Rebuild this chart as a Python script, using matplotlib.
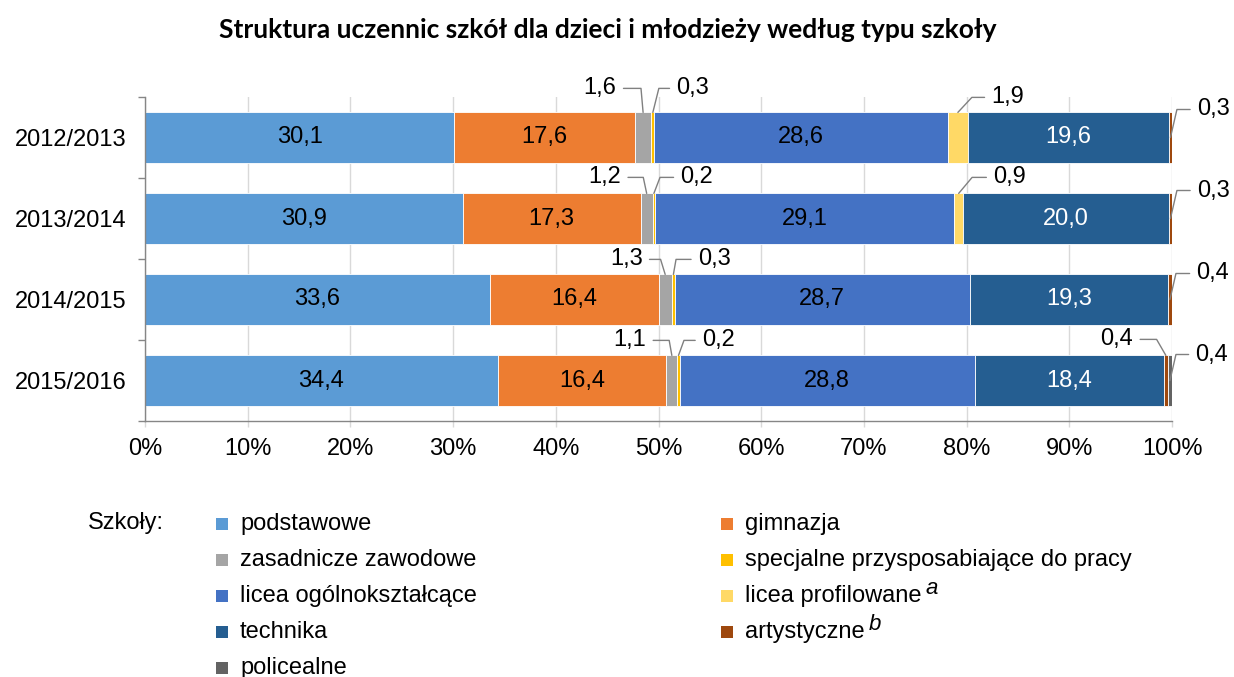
import matplotlib
matplotlib.use('Agg')
import matplotlib.pyplot as plt
import numpy as np
from matplotlib.patches import Rectangle

# ---------------- data ----------------
years = ['2012/2013', '2013/2014', '2014/2015', '2015/2016']
series_names = ['podstawowe', 'gimnazja', 'zasadnicze zawodowe',
                'specjalne przysposabiające do pracy', 'licea ogólnokształcące',
                'licea profilowane', 'technika', 'artystyczne', 'policealne']
podstawowe = [30.1, 30.9, 33.6, 34.4]
gimnazja = [17.6, 17.3, 16.4, 16.4]
zasadnicze = [1.6, 1.2, 1.3, 1.1]
specjalne = [0.3, 0.2, 0.3, 0.2]
licea_ogol = [28.6, 29.1, 28.7, 28.8]
licea_prof = [1.9, 0.9, 0.0, 0.0]
technika = [19.6, 20.0, 19.3, 18.4]
artystyczne = [0.3, 0.3, 0.4, 0.4]
policealne = [0.0, 0.0, 0.0, 0.4]
xticks = [0, 10, 20, 30, 40, 50, 60, 70, 80, 90, 100]
title = 'Struktura uczennic szkół dla dzieci i młodzieży według typu szkoły'
legend_title = 'Szkoły:'
superscripts = {5: 'a', 7: 'b'}

series = [podstawowe, gimnazja, zasadnicze, specjalne, licea_ogol,
          licea_prof, technika, artystyczne, policealne]
colors = ['#5B9BD5', '#ED7D31', '#A5A5A5', '#FFC000', '#4472C4',
          '#FFD966', '#255E91', '#9E480E', '#636363']
inside_color = {0: 'black', 1: 'black', 4: 'black', 6: 'white'}

# callout styling: (series, row) -> (dx px, dy px, angleB, anchor)
callouts = {
    (2, 0): (-43, 24, 95, 'top'), (3, 0): (40, 24, 76, 'top'),
    (5, 0): (50, 15, 47, 'top'), (7, 0): (43, 28, 77, 'mid'),
    (2, 1): (-42, 16, 102, 'top'), (3, 1): (43, 16, 69, 'top'),
    (5, 1): (51, 16, 50, 'top'), (7, 1): (43, 28, 77, 'mid'),
    (2, 2): (-39, 15, 107, 'top'), (3, 2): (41, 15, 80, 'top'),
    (7, 2): (43, 26, 77, 'mid'),
    (2, 3): (-42, 15, 100, 'top'), (3, 3): (40, 15, 70, 'top'),
    (7, 3): (-49, 16, 120, 'top'), (8, 3): (42, 26, 77, 'mid'),
}

FS = 17
FONT = 'Liberation Sans'
plt.rcParams['font.family'] = [FONT, 'DejaVu Sans']

W, H = 1234, 677
fig = plt.figure(figsize=(W / 100, H / 100), dpi=100)
ax = fig.add_axes([145 / W, 1 - 421 / H, (1172 - 145) / W, (421 - 97) / H])

data = np.array(series, dtype=float)
totals = data.sum(axis=0)
pct = data / totals * 100
ypos = np.arange(len(years))
bar_h = 0.62
left = np.zeros(len(years))
for i, name in enumerate(series_names):
    ax.barh(ypos, pct[i], left=left, height=bar_h, color=colors[i],
            edgecolor='white', linewidth=0.6, zorder=3)
    for r in range(len(years)):
        v = data[i, r]
        if v <= 0:
            continue
        xc = left[r] + pct[i, r] / 2
        lab = f'{v:.1f}'.replace('.', ',')
        if i in inside_color:
            ax.text(xc, ypos[r], lab, ha='center', va='center', fontsize=FS,
                    color=inside_color[i], zorder=5)
        elif (i, r) in callouts:
            dx, dy, ang, anc = callouts[(i, r)]
            ya = ypos[r] - bar_h / 2 if anc == 'top' else ypos[r]
            ax.annotate(lab, xy=(xc, ya), xycoords='data', xytext=(dx, dy),
                        textcoords='offset pixels', ha='center', va='center',
                        fontsize=FS, zorder=6,
                        arrowprops=dict(arrowstyle='-', color='#808080', lw=1,
                                        shrinkA=3, shrinkB=0,
                                        connectionstyle=f'angle,angleA=0,angleB={ang},rad=0'))
    left += pct[i]

ax.set_xlim(0, 100)
ax.set_ylim(len(years) - 0.5, -0.5)
ax.set_xticks(xticks)
ax.set_xticklabels([f'{t}%' for t in xticks], fontsize=FS)
ax.set_yticks(ypos)
ax.set_yticklabels(years, fontsize=FS)
ax.set_yticks(np.arange(len(years) + 1) - 0.5, minor=True)
ax.tick_params(axis='y', which='major', length=0, pad=13)
ax.tick_params(axis='y', which='minor', length=5, color='#868686', width=1)
ax.tick_params(axis='x', length=4, color='#D9D9D9', width=1, pad=8)
ax.grid(axis='x', color='#D9D9D9', linewidth=1, zorder=0)
ax.set_axisbelow(True)
for s in ['top', 'right']:
    ax.spines[s].set_visible(False)
for s in ['left', 'bottom']:
    ax.spines[s].set_color('#868686')
    ax.spines[s].set_linewidth(1)
    ax.spines[s].set_zorder(4)

fig.text(608 / W, 1 - 30 / H, title, ha='center', va='center', fontsize=19,
         fontweight='bold', family=['Lato', 'DejaVu Sans'])

# legend (manual, two columns filled row-wise)
fig.text(88 / W, 1 - 523 / H, legend_title, ha='left', va='center', fontsize=FS)
col_x = [216, 721]
row_y0, row_dy = 524, 36
renderer = fig.canvas.get_renderer()
for i, name in enumerate(series_names):
    r, c = divmod(i, 2)
    yc = row_y0 + r * row_dy
    fig.add_artist(Rectangle((col_x[c] / W, 1 - (yc + 6) / H), 12 / W, 12 / H,
                             transform=fig.transFigure, facecolor=colors[i],
                             edgecolor='none'))
    t = fig.text((col_x[c] + 24) / W, 1 - yc / H, name, ha='left', va='center',
                 fontsize=FS)
    if i in superscripts:
        bb = t.get_window_extent(renderer=renderer)
        fig.text((bb.x1 + 4) / W, 1 - (yc - 8) / H, superscripts[i], ha='left',
                 va='center', fontsize=FS - 1, style='italic')

fig.savefig('out.png', dpi=100)
